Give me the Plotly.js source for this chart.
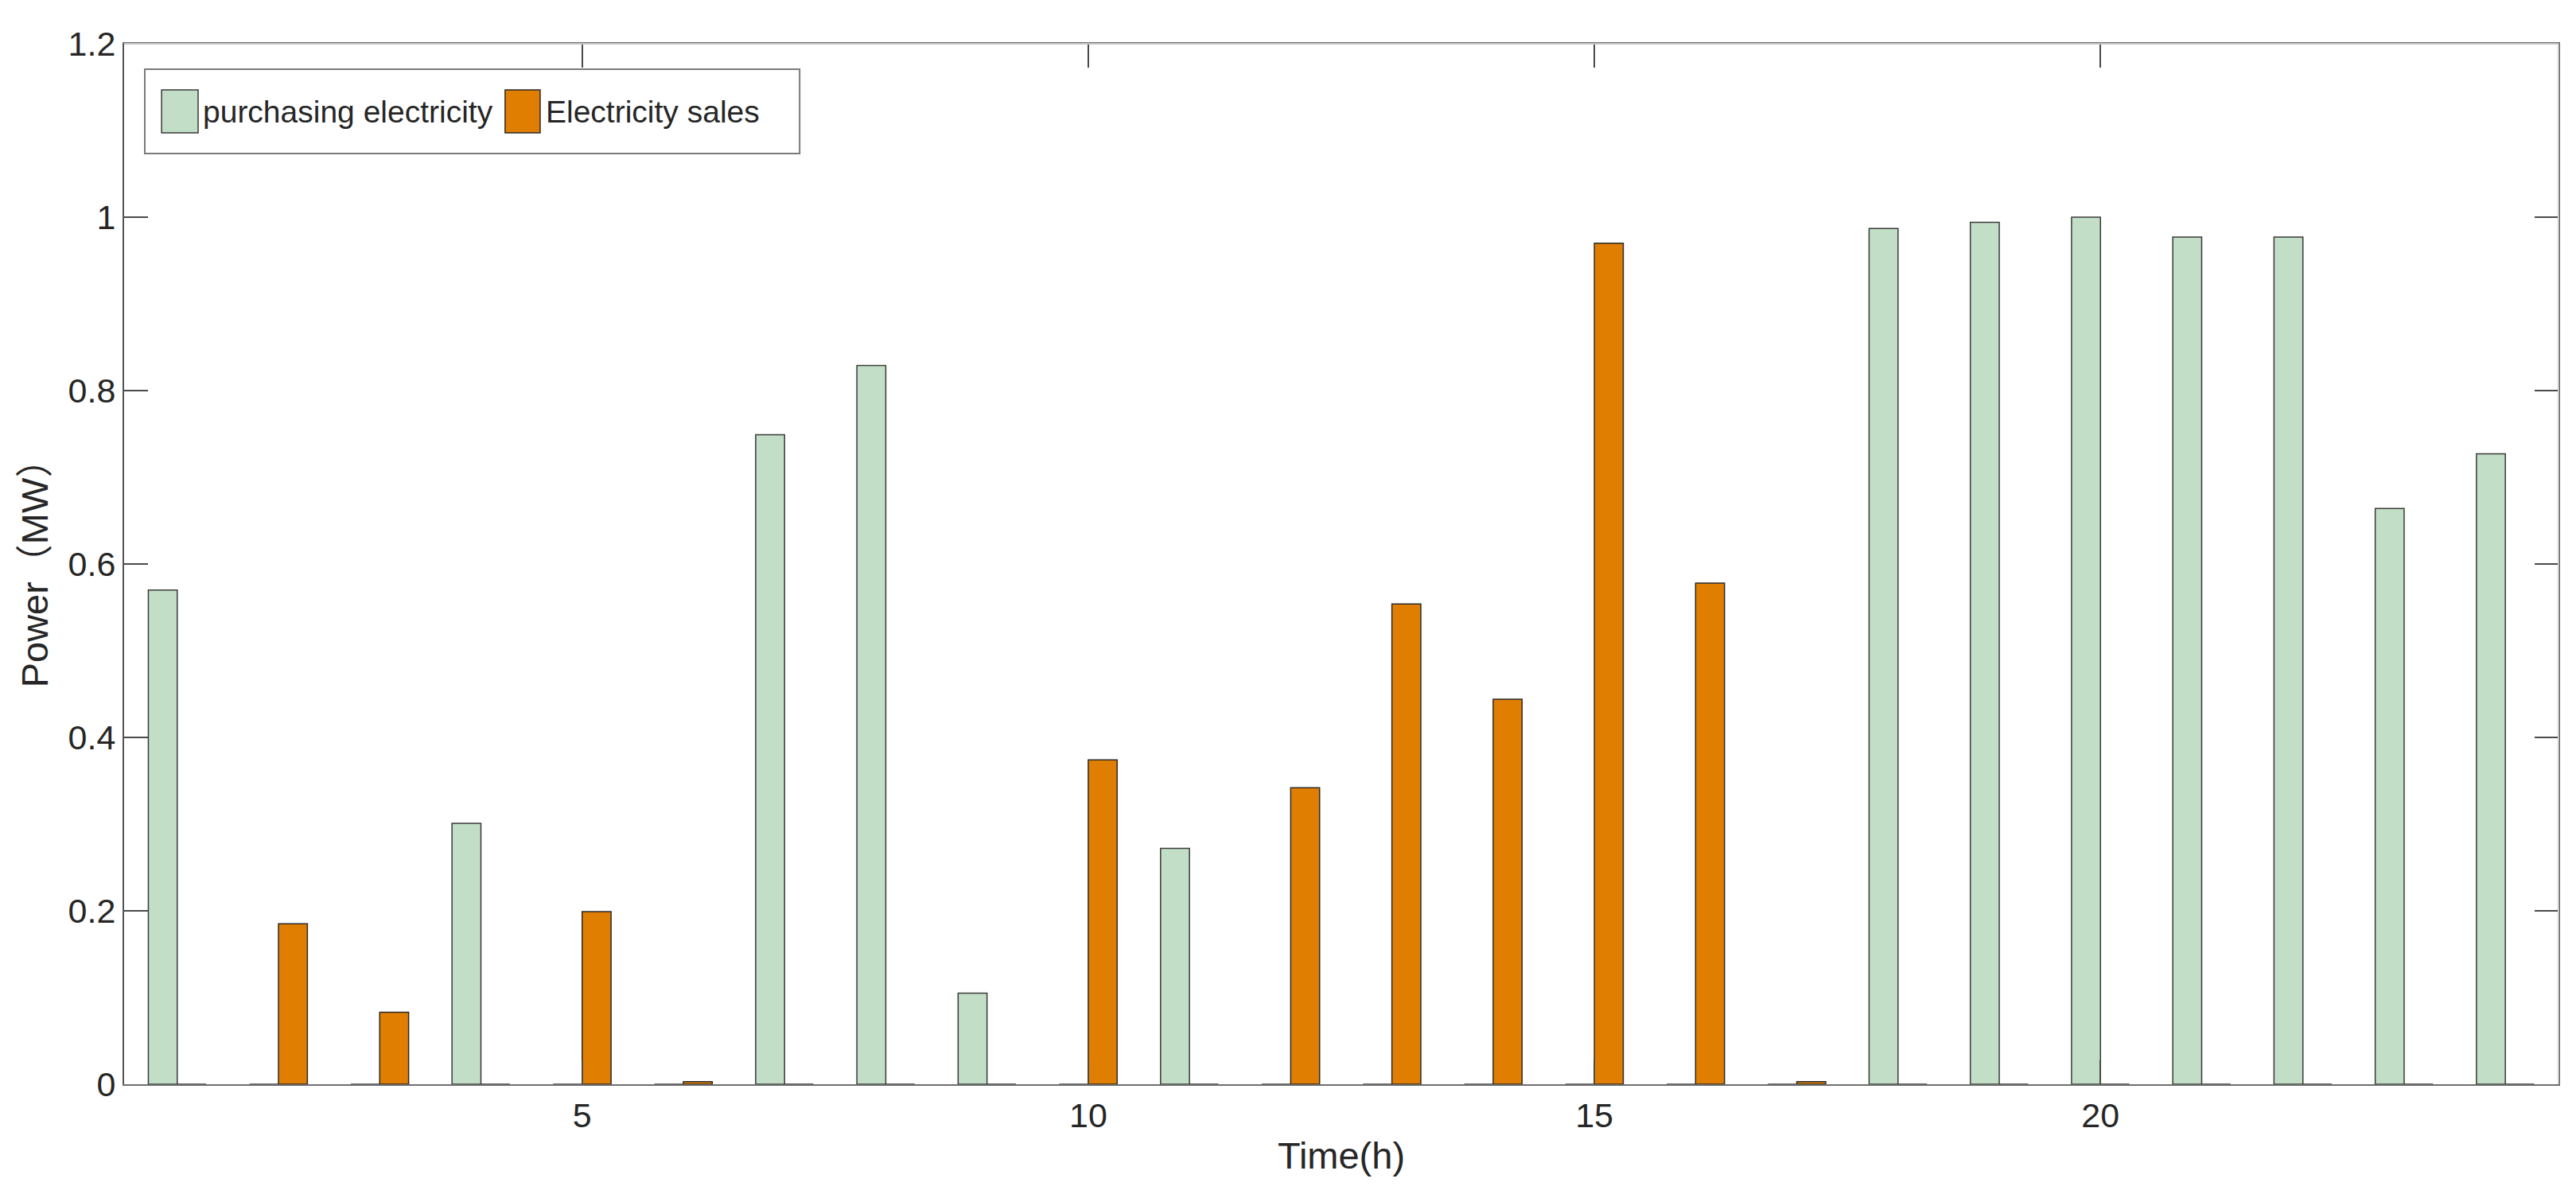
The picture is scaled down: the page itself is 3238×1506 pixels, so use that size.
<!DOCTYPE html>
<html>
<head>
<meta charset="utf-8">
<script src="https://cdn.plot.ly/plotly-3.0.1.min.js"></script>
<style>
  html, body { margin: 0; padding: 0; background: #ffffff; }
  #chart { width: 3238px; height: 1506px; }
</style>
</head>
<body>
<div id="chart"></div>
<script>
// ---- data ----
const hours = [1, 2, 3, 4, 5, 6, 7, 8, 9, 10, 11, 12, 13, 14, 15, 16, 17, 18, 19, 20, 21, 22, 23, 24];
const purchasing = [0.570, 0, 0, 0.301, 0, 0, 0.749, 0.829, 0.105, 0, 0.272, 0, 0, 0, 0, 0, 0, 0.987, 0.994, 1.000, 0.977, 0.977, 0.664, 0.727];
const sales = [0, 0.185, 0.083, 0, 0.199, 0.003, 0, 0, 0, 0.374, 0, 0.342, 0.554, 0.444, 0.970, 0.578, 0.003, 0, 0, 0, 0, 0, 0, 0];
const seriesNames = ["purchasing electricity", "Electricity sales"];
const xTickVals = [5, 10, 15, 20];
const xTickText = ["5", "10", "15", "20"];
const yTickVals = [0, 0.2, 0.4, 0.6, 0.8, 1, 1.2];
const yTickText = ["0", "0.2", "0.4", "0.6", "0.8", "1", "1.2"];

// ---- styles ----
const GREEN = "#c2dec6";
const ORANGE = "#df7e00";
const TEXT = "#262626";
const FONT = "Liberation Sans, Arial, Helvetica, Noto Sans CJK SC, sans-serif";

const traces = [
  {
    type: "bar", name: seriesNames[0], x: hours, y: purchasing,
    marker: { color: GREEN, line: { color: "#3a3a3a", width: 1.5 } },
    showlegend: false
  },
  {
    type: "bar", name: seriesNames[1], x: hours, y: sales,
    marker: { color: ORANGE, line: { color: "#2a2a2a", width: 1.5 } },
    showlegend: false
  }
];

const layout = {
  width: 3238, height: 1506,
  paper_bgcolor: "#ffffff", plot_bgcolor: "#ffffff",
  margin: { l: 156, r: 22, t: 55, b: 143 },
  barmode: "group", bargap: 0.4286, bargroupgap: 0,
  font: { family: FONT, color: TEXT, size: 43 },
  xaxis: {
    range: [0.475, 24.525],
    tickmode: "array", tickvals: xTickVals, ticktext: xTickText,
    ticks: "inside", ticklen: 30, tickwidth: 2, tickcolor: "#4a4a4a",
    showline: true, linecolor: "#6e6e6e", linewidth: 2, mirror: "ticks",
    showgrid: false, zeroline: false,
    tickfont: { size: 43, color: TEXT, family: FONT },
    title: { text: "Time(h)", font: { size: 47, color: TEXT, family: FONT }, standoff: 12 }
  },
  yaxis: {
    range: [0, 1.2],
    tickmode: "array", tickvals: yTickVals, ticktext: yTickText,
    ticks: "inside", ticklen: 30, tickwidth: 2, tickcolor: "#4a4a4a",
    showline: true, linecolor: "#555555", linewidth: 2, mirror: "ticks",
    showgrid: false, zeroline: false,
    tickfont: { size: 43, color: TEXT, family: FONT },
    title: { text: "Power（MW）", font: { size: 47, color: TEXT, family: FONT }, standoff: 10 }
  },
  shapes: [
    // lighter top and right box edges
    { type: "line", xref: "paper", yref: "paper", x0: 0, x1: 1, y0: 1, y1: 1, line: { color: "#c4c4c4", width: 2 }, layer: "above" },
    { type: "line", xref: "paper", yref: "paper", x0: 1, x1: 1, y0: 0, y1: 1, line: { color: "#c4c4c4", width: 2 }, layer: "above" },
    // legend box
    { type: "rect", xref: "paper", yref: "paper", x0: 0.0085, x1: 0.2775, y0: 0.8945, y1: 0.9755,
      fillcolor: "#ffffff", line: { color: "#7a7a7a", width: 2 }, layer: "above" },
    // legend patches
    { type: "rect", xref: "paper", yref: "paper", x0: 0.0154, x1: 0.0304, y0: 0.9144, y1: 0.9557,
      fillcolor: GREEN, line: { color: "#3a3a3a", width: 1.5 }, layer: "above" },
    { type: "rect", xref: "paper", yref: "paper", x0: 0.1565, x1: 0.1709, y0: 0.9144, y1: 0.9557,
      fillcolor: ORANGE, line: { color: "#2a2a2a", width: 1.5 }, layer: "above" }
  ],
  annotations: [
    { xref: "paper", yref: "paper", x: 0.0316, y: 0.9345, xanchor: "left", yanchor: "middle",
      text: seriesNames[0], showarrow: false, font: { size: 39, color: TEXT, family: FONT } },
    { xref: "paper", yref: "paper", x: 0.1725, y: 0.9345, xanchor: "left", yanchor: "middle",
      text: seriesNames[1], showarrow: false, font: { size: 39, color: TEXT, family: FONT } }
  ]
};

Plotly.newPlot("chart", traces, layout, { displayModeBar: false, staticPlot: true });
</script>
</body>
</html>
